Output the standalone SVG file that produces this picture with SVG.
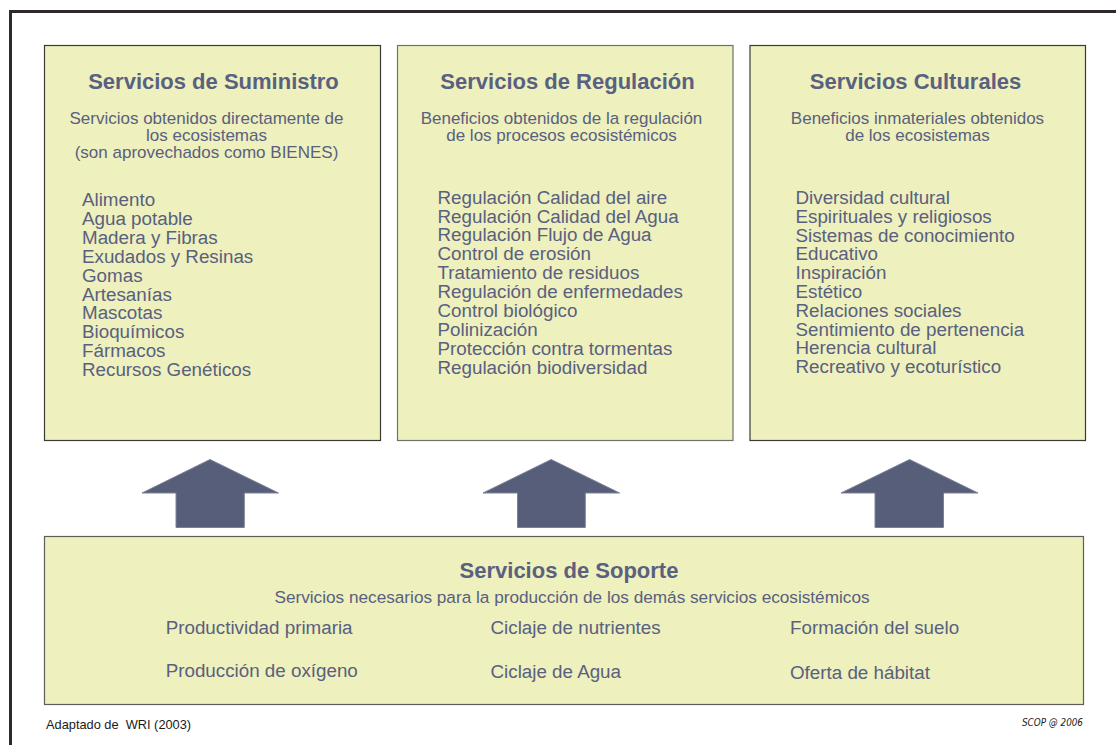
<svg xmlns="http://www.w3.org/2000/svg" width="1116" height="745" viewBox="0 0 1116 745">
<style>
  text { font-family: "Liberation Sans", Arial, sans-serif; fill: #596080; }
  .box { fill: #eef0bd; stroke-width: 1.2; }
  .title { font-size: 22px; font-weight: bold; text-anchor: middle; }
  .sub { font-size: 17px; text-anchor: middle; }
  .item { font-size: 18.8px; }
  .bitem { font-size: 18.8px; }
  .arrow { fill: #575e7a; stroke: #7c8196; stroke-width: 1; }
  .frame { fill: none; stroke: #2f2a27; stroke-width: 3; }
</style>
<rect width="1116" height="745" fill="#ffffff"/>
<path class="frame" d="M10.5 745 V11.5 H1116"/>

<g id="suministro">
  <rect class="box" x="44.5" y="45.5" width="336" height="395" stroke="#3d3a36"/>
  <text class="title" x="213.5" y="89">Servicios de Suministro</text>
  <text class="sub" x="206.5" y="124"><tspan x="206.5" y="124">Servicios obtenidos directamente de</tspan><tspan x="206.5" y="141">los ecosistemas</tspan><tspan x="206.5" y="158">(son aprovechados como BIENES)</tspan></text>
  <text class="item" x="82" y="206">Alimento</text>
  <text class="item" x="82" y="224.9">Agua potable</text>
  <text class="item" x="82" y="243.8">Madera y Fibras</text>
  <text class="item" x="82" y="262.7">Exudados y Resinas</text>
  <text class="item" x="82" y="281.6">Gomas</text>
  <text class="item" x="82" y="300.5">Artesanías</text>
  <text class="item" x="82" y="319.4">Mascotas</text>
  <text class="item" x="82" y="338.3">Bioquímicos</text>
  <text class="item" x="82" y="357.2">Fármacos</text>
  <text class="item" x="82" y="376.1">Recursos Genéticos</text>
</g>

<g id="regulacion">
  <rect class="box" x="397.5" y="45.5" width="335.5" height="395" stroke="#73726a"/>
  <text class="title" x="567.5" y="89">Servicios de Regulación</text>
  <text class="sub" x="561.5" y="123.5"><tspan x="561.5" y="123.5">Beneficios obtenidos de la regulación</tspan><tspan x="561.5" y="140.5">de los procesos ecosistémicos</tspan></text>
  <text class="item" x="437.5" y="203.5">Regulación Calidad del aire</text>
  <text class="item" x="437.5" y="222.5">Regulación Calidad del Agua</text>
  <text class="item" x="437.5" y="241.4">Regulación Flujo de Agua</text>
  <text class="item" x="437.5" y="260.4">Control de erosión</text>
  <text class="item" x="437.5" y="279.3">Tratamiento de residuos</text>
  <text class="item" x="437.5" y="298.3">Regulación de enfermedades</text>
  <text class="item" x="437.5" y="317.2">Control biológico</text>
  <text class="item" x="437.5" y="336.2">Polinización</text>
  <text class="item" x="437.5" y="355.1">Protección contra tormentas</text>
  <text class="item" x="437.5" y="374.1">Regulación biodiversidad</text>
</g>

<g id="culturales">
  <rect class="box" x="750" y="45.5" width="335.5" height="395" stroke="#3d3a36"/>
  <text class="title" x="915.5" y="89">Servicios Culturales</text>
  <text class="sub" x="917.5" y="123.5"><tspan x="917.5" y="123.5">Beneficios inmateriales obtenidos</tspan><tspan x="917.5" y="140.5">de los ecosistemas</tspan></text>
  <text class="item" x="795.5" y="204">Diversidad cultural</text>
  <text class="item" x="795.5" y="222.8">Espirituales y religiosos</text>
  <text class="item" x="795.5" y="241.6">Sistemas de conocimiento</text>
  <text class="item" x="795.5" y="260.4">Educativo</text>
  <text class="item" x="795.5" y="279.2">Inspiración</text>
  <text class="item" x="795.5" y="298">Estético</text>
  <text class="item" x="795.5" y="316.8">Relaciones sociales</text>
  <text class="item" x="795.5" y="335.6">Sentimiento de pertenencia</text>
  <text class="item" x="795.5" y="354.4">Herencia cultural</text>
  <text class="item" x="795.5" y="373.2">Recreativo y ecoturístico</text>
</g>

<g id="connectors">
  <polygon class="arrow" points="210,459.5 278.5,493 244.3,493 244.3,527.5 176,527.5 176,493 142,493"/>
  <polygon class="arrow" points="551.2,459.5 619.6,493 585.3,493 585.3,527.5 517.5,527.5 517.5,493 483,493"/>
  <polygon class="arrow" points="909.6,459.5 978,493 943.5,493 943.5,527.5 875,527.5 875,493 841,493"/>
</g>

<g id="soporte">
  <rect class="box" x="44.5" y="536.5" width="1039" height="168" stroke="#5e5d58"/>
  <text class="title" x="569" y="578">Servicios de Soporte</text>
  <text class="sub" x="572" y="602.5" style="font-size:17.2px">Servicios necesarios para la producción de los demás servicios ecosistémicos</text>
  <text class="bitem" x="165.7" y="633.5">Productividad primaria</text>
  <text class="bitem" x="165.7" y="676.5">Producción de oxígeno</text>
  <text class="bitem" x="490.5" y="634">Ciclaje de nutrientes</text>
  <text class="bitem" x="490.5" y="678">Ciclaje de Agua</text>
  <text class="bitem" x="790" y="633.5">Formación del suelo</text>
  <text class="bitem" x="790" y="678.5">Oferta de hábitat</text>
</g>

<g id="footer">
  <text x="46" y="729" style="font-size:12.8px; fill:#1a1a1a;">Adaptado de&#160; WRI (2003)</text>
  <text x="1022" y="725.5" textLength="61" lengthAdjust="spacingAndGlyphs" style="font-family:'DejaVu Sans Condensed','DejaVu Sans',sans-serif; font-size:10.5px; font-style:italic; fill:#222222;">SCOP @ 2006</text>
</g>
</svg>
